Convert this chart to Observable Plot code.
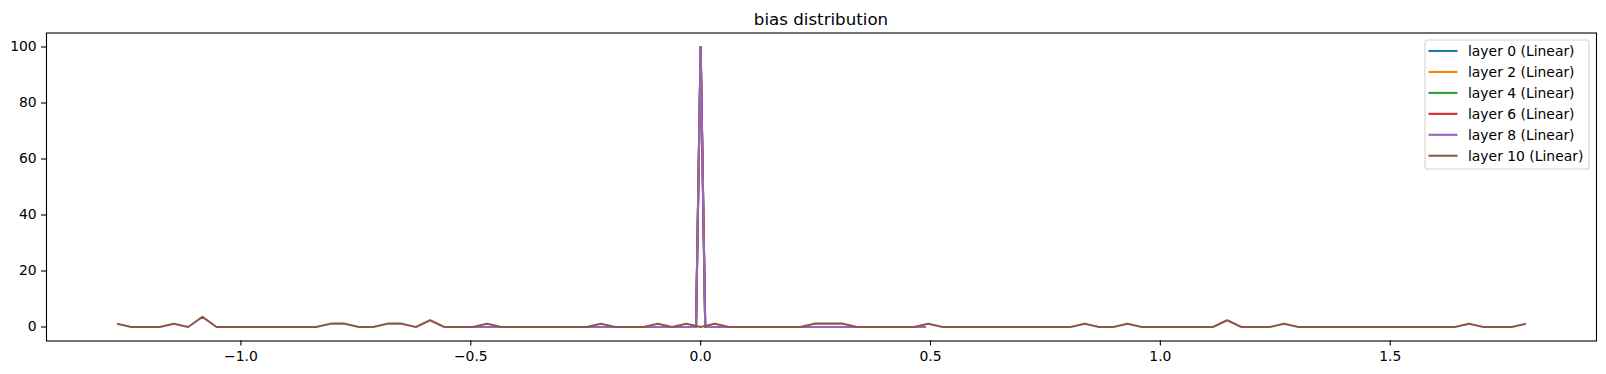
<!DOCTYPE html>
<html><head><meta charset="utf-8">
<script src="https://cdn.jsdelivr.net/npm/d3@7"></script>
<script src="https://cdn.jsdelivr.net/npm/@observablehq/plot@0.6"></script>
<style>html,body{margin:0;padding:0;background:#fff}#chart svg{display:block}</style>
</head><body><div id="chart"></div>
<script>
const chartTitle = "bias distribution";
const layerNames = ["layer 0 (Linear)","layer 2 (Linear)","layer 4 (Linear)","layer 6 (Linear)","layer 8 (Linear)","layer 10 (Linear)"];
const layerColors = ["#1f77b4","#ff7f0e","#2ca02c","#d62728","#9467bd","#8c564b"];

// layers 0-8: all biases zero -> single spike at 0 over bins [-0.5, 0.5)
const layer0X = [-0.5,-0.01,0,0.01,0.49];
const layer0Y = [0,0,100,0,0];
const layer2X = [-0.5,-0.01,0,0.01,0.49];
const layer2Y = [0,0,100,0,0];
const layer4X = [-0.5,-0.01,0,0.01,0.49];
const layer4Y = [0,0,100,0,0];
const layer6X = [-0.5,-0.01,0,0.01,0.49];
const layer6Y = [0,0,100,0,0];
const layer8X = [-0.5,-0.01,0,0.01,0.49];
const layer8Y = [0,0,100,0,0];

// layer 10: vertices of the density curve
const layer10X = [-1.2696,-1.2386,-1.1767,-1.1458,-1.1148,-1.0838,-1.0529,-0.8362,-0.8052,-0.7742,-0.7433,-0.7123,-0.6814,-0.6504,-0.6194,-0.5885,-0.5575,-0.4956,-0.4646,-0.4337,-0.2479,-0.2170,-0.1860,-0.1241,-0.0931,-0.0622,-0.0312,-0.0002,0.0307,0.0617,0.2165,0.2474,0.3094,0.3403,0.4642,0.4951,0.5261,0.8047,0.8357,0.8666,0.8976,0.9286,0.9595,1.1143,1.1453,1.1762,1.2382,1.2691,1.3001,1.6406,1.6716,1.7026,1.7645,1.7954];
const layer10Y = [1.2,0,0,1.2,0,3.6,0,0,1.2,1.2,0,0,1.2,1.2,0,2.4,0,0,1.2,0,0,1.2,0,0,1.2,0,1.2,0,1.2,0,0,1.2,1.2,0,0,1.2,0,0,1.2,0,0,1.2,0,0,2.4,0,0,1.2,0,0,1.2,0,0,1.2];

const xTicks = [-1.0,-0.5,0.0,0.5,1.0,1.5];
const yTicks = [0,20,40,60,80,100];

const seriesX = [layer0X,layer2X,layer4X,layer6X,layer8X,layer10X];
const seriesY = [layer0Y,layer2Y,layer4Y,layer6Y,layer8Y,layer10Y];
const rows = [];
layerNames.forEach((name,k)=>{
  seriesX[k].forEach((xv,i)=>rows.push({layer:name,x:xv,y:seriesY[k][i]}));
});

const W=1606,H=374,ML=46,MR=10,MT=32.5,MB=33.5;
const plot = Plot.plot({
  width:W,height:H,marginLeft:ML,marginRight:MR,marginTop:MT,marginBottom:MB,
  style:{fontFamily:"DejaVu Sans",fontSize:"13.9px",background:"white",color:"black",overflow:"visible"},
  x:{domain:[-1.4229,1.9487]},
  y:{domain:[-5,105]},
  color:{domain:layerNames,range:layerColors},
  marks:[
    Plot.line(rows,{x:"x",y:"y",z:"layer",stroke:"layer",strokeWidth:2.08,strokeLinejoin:"round",strokeLinecap:"butt"}),
    Plot.frame({stroke:"black",strokeWidth:1.1}),
    Plot.axisX({ticks:xTicks,tickFormat:d3.format(".1f"),tickSize:4.9,tickPadding:4.9,strokeWidth:1.1,label:null,stroke:"black",fill:"black",fontSize:13.9}),
    Plot.axisY({ticks:yTicks,tickFormat:d3.format("d"),tickSize:4.9,tickPadding:4.9,strokeWidth:1.1,label:null,stroke:"black",fill:"black",fontSize:13.9})
  ]
});
document.getElementById("chart").appendChild(plot);

const svg = d3.select(plot);
// title
svg.append("text").attr("x",(ML+W-MR)/2).attr("y",24.5).attr("text-anchor","middle")
  .attr("font-family","DejaVu Sans").attr("font-size","16.67px").attr("fill","black").text(chartTitle);

// legend
const lg = svg.append("g");
lg.append("rect").attr("x",1425).attr("y",40).attr("width",164).attr("height",129)
  .attr("rx",2.8).attr("fill","white").attr("fill-opacity",0.8).attr("stroke","#d3d3d3").attr("stroke-width",1.1);
layerNames.forEach((name,i)=>{
  const cy = 51 + i*20.95;
  lg.append("line").attr("x1",1428.5).attr("x2",1457.5).attr("y1",cy).attr("y2",cy)
    .attr("stroke",layerColors[i]).attr("stroke-width",2.08);
  lg.append("text").attr("x",1468).attr("y",cy).attr("dy","0.36em").attr("text-anchor","start")
    .attr("font-family","DejaVu Sans").attr("font-size","13.9px").attr("fill","black").text(name);
});
</script>
</body></html>
